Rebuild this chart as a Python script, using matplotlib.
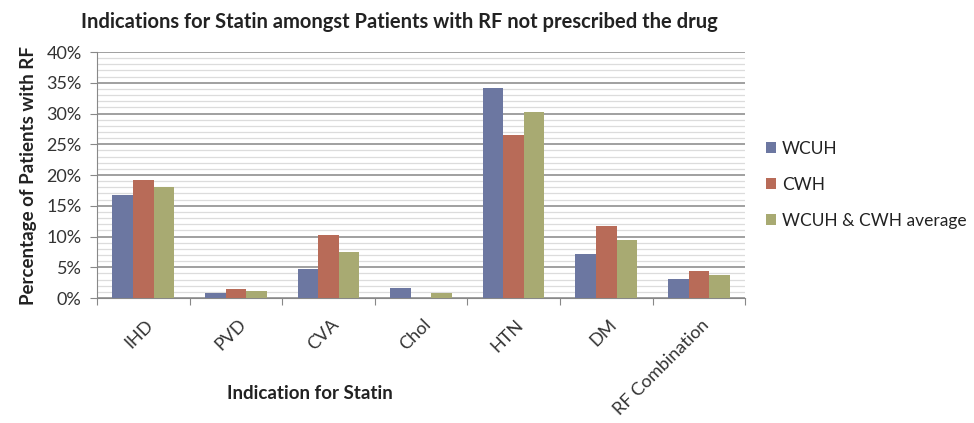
import matplotlib
matplotlib.use("Agg")
import matplotlib.pyplot as plt
from matplotlib.patches import Patch
from matplotlib.ticker import MultipleLocator, PercentFormatter
import numpy as np

categories = ["IHD", "PVD", "CVA", "Chol", "HTN", "DM", "RF Combination"]
series_names = ["WCUH", "CWH", "WCUH & CWH average"]
wcuh = [16.7, 0.8, 4.7, 1.6, 34.1, 7.1, 3.1]
cwh = [19.2, 1.5, 10.2, 0.0, 26.5, 11.7, 4.4]
average = [18.0, 1.1, 7.5, 0.8, 30.3, 9.4, 3.7]
colors = ["#6c77a1", "#b86b58", "#a8aa72"]

plt.rcParams["font.family"] = ["Lato", "DejaVu Sans"]

fig = plt.figure(figsize=(9.74, 4.23), dpi=100)
ax = fig.add_axes([0.0996, 0.2955, 0.6654, 0.5815])

x = np.arange(len(categories))
width = 0.222
for i, (vals, col) in enumerate(zip([wcuh, cwh, average], colors)):
    ax.bar(x + (i - 1) * width, vals, width, color=col, zorder=3)

ax.set_xlim(-0.5, len(categories) - 0.5)
ax.set_ylim(0, 40)
ax.yaxis.set_major_locator(MultipleLocator(5))
ax.yaxis.set_minor_locator(MultipleLocator(1))
ax.yaxis.set_major_formatter(PercentFormatter(decimals=0))

# excel style grid
ax.grid(which="major", axis="y", color="#a0a0a0", linewidth=1.4, zorder=0)
ax.grid(which="minor", axis="y", color="#dcdcdc", linewidth=0.9, zorder=0)

for s in ["top", "right"]:
    ax.spines[s].set_visible(False)
ax.spines["left"].set_color("#888888")
ax.spines["bottom"].set_color("#888888")

ax.set_xticks(np.arange(len(categories) + 1) - 0.5, minor=False)
ax.set_xticklabels([])
ax.tick_params(axis="x", which="major", length=5, color="#888888", direction="out")
ax.tick_params(axis="y", which="major", length=5, color="#888888", labelsize=13,
               labelcolor="#333333", pad=6)
ax.tick_params(axis="y", which="minor", length=0)

for xi, lab in zip(x, categories):
    ax.text(xi + 0.02, -3.0, lab, rotation=45, ha="right", va="top",
            rotation_mode="anchor", fontsize=13, color="#333333")

ax.set_ylabel("Percentage of Patients with RF", fontsize=13.5, fontweight="bold",
              color="#222222", labelpad=7)
fig.text(310 / 974, 1 - 393 / 423, "Indication for Statin", ha="center", va="center",
         fontsize=13.5, fontweight="bold", color="#222222")
fig.text(399 / 974, 1 - 22 / 423,
         "Indications for Statin amongst Patients with RF not prescribed the drug",
         ha="center", va="center", fontsize=14.5, fontweight="bold", color="#222222")

handles = [Patch(facecolor=c) for c in colors]
fig.legend(handles, series_names, loc="center left", bbox_to_anchor=(0.77, 0.563),
           frameon=False, fontsize=12.5, handlelength=0.6, handleheight=0.6,
           handletextpad=0.35, labelspacing=1.15, labelcolor="#222222")

fig.savefig("out.png", dpi=100, facecolor="white")
